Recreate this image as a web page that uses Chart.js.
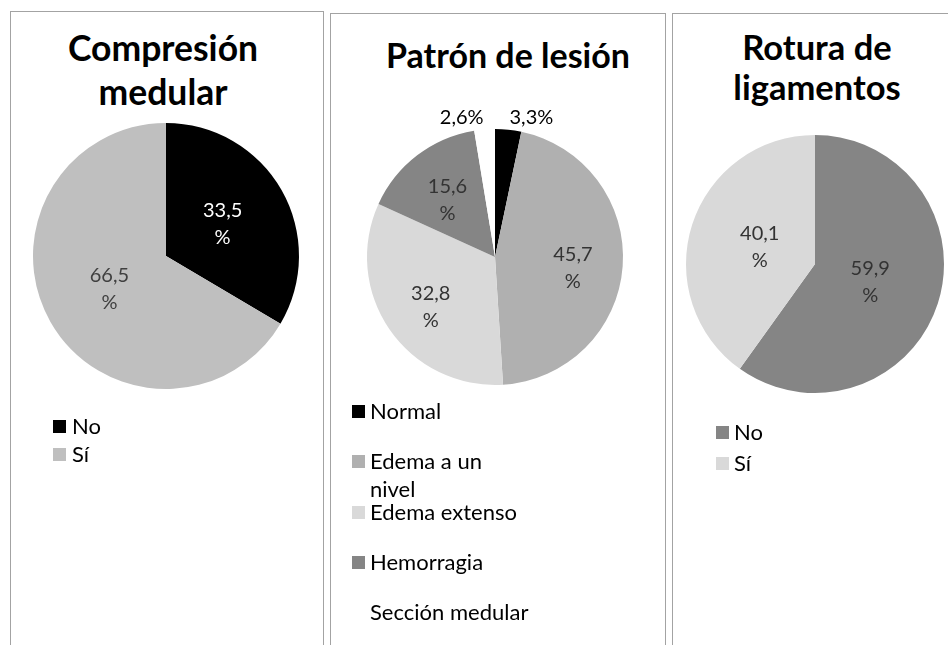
<!DOCTYPE html>
<html>
<head>
<meta charset="utf-8">
<script src="https://cdn.jsdelivr.net/npm/chart.js@4.4.1/dist/chart.umd.min.js"></script>
<style>
    body { margin: 0; width: 948px; height: 645px; overflow: hidden; position: relative; background: #fff; font-family: Lato, "DejaVu Sans", sans-serif; }
    .panel { position: absolute; border: 1.5px solid #a3a3a3; box-sizing: border-box; }
    .title { position: absolute; width: 320px; text-align: center; font-weight: bold; color: #000; }
    canvas { position: absolute; }
    .legend-item { position: absolute; font-size: 22px; line-height: 28px; color: #000; }
    .legend-box { position: absolute; left: 0; top: 8px; width: 13px; height: 13px; }
</style>
</head>
<body>
<div class="panel" style="left:10px; top:11px; width:314px; height:700px;"></div>
<div class="panel" style="left:330px; top:13px; width:336px; height:700px;"></div>
<div class="panel" style="left:672px; top:13px; width:320px; height:700px;"></div>

<div class="title" style="left:3px; top:26px; font-size:35.5px; line-height:44px;">Compresión<br>medular</div>
<div class="title" style="left:348px; top:34px; font-size:34px; line-height:42px;">Patrón de lesión</div>
<div class="title" style="left:657px; top:27px; font-size:34.5px; line-height:40px;">Rotura de<br>ligamentos</div>

<canvas id="chartComp"></canvas>
<canvas id="chartPatron"></canvas>
<canvas id="chartRotura"></canvas>

<script>
// === DATA ===
const compLabels = ["No", "Sí"];
const compValues = [33.5, 66.5];

const patronLabels = ["Normal", "Edema a un nivel", "Edema extenso", "Hemorragia", "Sección medular"];
const patronValues = [3.3, 45.7, 32.8, 15.6, 2.6];

const roturaLabels = ["No", "Sí"];
const roturaValues = [59.9, 40.1];

// === STYLE ===
const compColors = ["#000000", "#bfbfbf"];
const patronColors = ["#000000", "#b0b0b0", "#d9d9d9", "#858585", "#ffffff"];
const roturaColors = ["#858585", "#d9d9d9"];

// slice labels: inside ones on two lines ("45,7" / "%"), small slices outside
const sliceLabels = {
    id: "sliceLabels",
    afterDatasetsDraw(chart, args, opts) {
        const ctx = chart.ctx;
        const values = chart.data.datasets[0].data;
        const meta = chart.getDatasetMeta(0);
        ctx.save();
        ctx.font = "20px Lato";
        ctx.textBaseline = "middle";
        meta.data.forEach((arc, i) => {
            const p = arc.getProps(["x", "y", "startAngle", "endAngle", "outerRadius"], true);
            const mid = (p.startAngle + p.endAngle) / 2;
            const txt = values[i].toFixed(1).replace(".", ",");
            if (values[i] < 5) {
                const d = p.outerRadius + 12;
                ctx.fillStyle = "#000";
                ctx.textAlign = Math.cos(mid) >= 0 ? "left" : "right";
                ctx.fillText(txt + "%", p.x + Math.cos(mid) * d, p.y + Math.sin(mid) * d);
            } else {
                const d = p.outerRadius * opts.frac;
                const cx = p.x + Math.cos(mid) * d;
                const cy = p.y + Math.sin(mid) * d + opts.dy;
                ctx.fillStyle = opts.colors[i];
                ctx.textAlign = "center";
                ctx.fillText(txt, cx, cy - 13);
                ctx.fillText("%", cx, cy + 14);
            }
        });
        ctx.restore();
    },
};

function makePie(id, labels, values, colors, cfg) {
    const pad = 45;
    const size = 2 * (cfg.r + pad);
    const canvas = document.getElementById(id);
    canvas.width = size;
    canvas.height = size;
    canvas.style.left = (cfg.cx - cfg.r - pad) + "px";
    canvas.style.top = (cfg.cy - cfg.r - pad) + "px";

    return new Chart(canvas.getContext("2d"), {
        type: "pie",
        data: {
            labels: labels,
            datasets: [{
                data: values,
                backgroundColor: colors,
                borderWidth: 0,
                hoverBorderWidth: 0,
                hoverOffset: 0,
            }],
        },
        options: {
            responsive: false,
            animation: false,
            events: [],
            layout: { padding: pad },
            plugins: {
                legend: { display: false },
                tooltip: { enabled: false },
                sliceLabels: { frac: cfg.frac, dy: cfg.dy, colors: cfg.labelColors },
            },
        },
        plugins: [sliceLabels],
    });
}

// legend as a plain column of items, like the original
function makeLegend(labels, colors, cfg) {
    labels.forEach((label, i) => {
        const item = document.createElement("div");
        item.className = "legend-item";
        item.style.left = cfg.x + "px";
        item.style.top = (cfg.y0 - 14 + i * cfg.step) + "px";
        const box = document.createElement("div");
        box.className = "legend-box";
        box.style.background = colors[i];
        const text = document.createElement("div");
        text.style.marginLeft = cfg.textGap + "px";
        text.style.maxWidth = cfg.maxWidth + "px";
        text.textContent = label;
        item.appendChild(box);
        item.appendChild(text);
        document.body.appendChild(item);
    });
}

makePie("chartComp", compLabels, compValues, compColors,
    { cx: 165.5, cy: 255.5, r: 133, frac: 0.49, dy: 0, labelColors: ["#ffffff", "#404040"] });
makePie("chartPatron", patronLabels, patronValues, patronColors,
    { cx: 494.5, cy: 257, r: 128, frac: 0.61, dy: 5, labelColors: ["#000", "#333", "#333", "#333", "#000"] });
makePie("chartRotura", roturaLabels, roturaValues, roturaColors,
    { cx: 814.5, cy: 264, r: 129, frac: 0.45, dy: 0, labelColors: ["#333", "#333"] });

makeLegend(compLabels, compColors, { x: 53, y0: 426, step: 28, textGap: 19, maxWidth: 200 });
makeLegend(patronLabels, patronColors, { x: 352, y0: 411, step: 50.3, textGap: 18, maxWidth: 161 });
makeLegend(roturaLabels, roturaColors, { x: 716, y0: 432, step: 31, textGap: 18, maxWidth: 200 });
</script>
</body>
</html>
